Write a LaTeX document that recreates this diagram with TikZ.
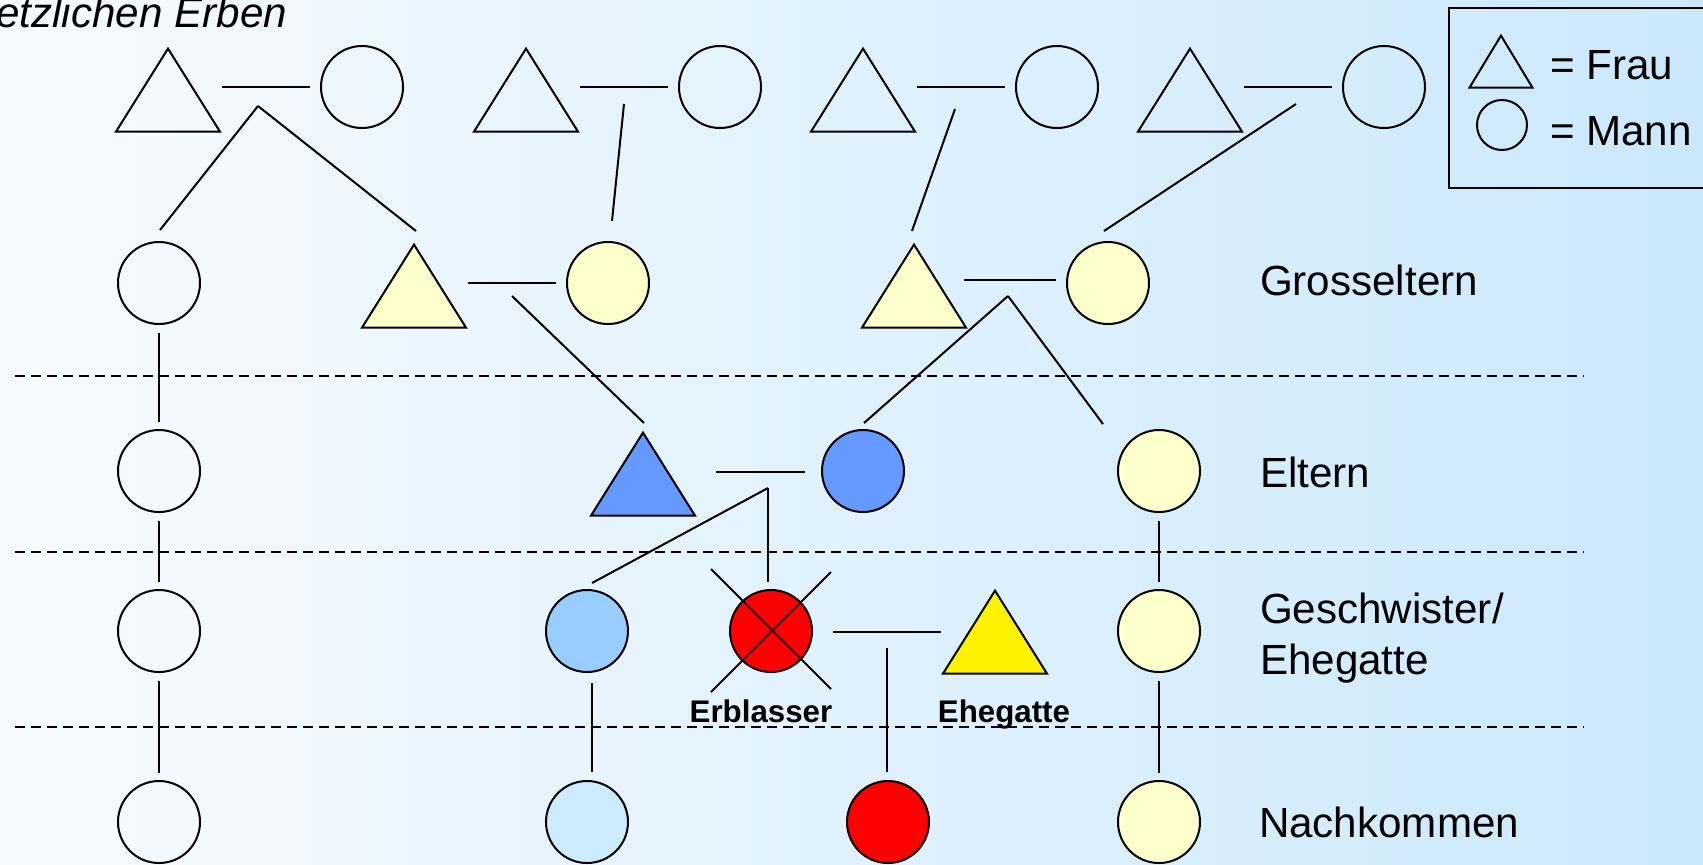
\documentclass[tikz,border=0pt]{standalone}
\usepackage{fontspec}
\setmainfont{Liberation Sans}
\usetikzlibrary{shapes.geometric,calc}

\definecolor{bgleft}{HTML}{F7FBFF}
\definecolor{bgright}{HTML}{CBE8FB}
\definecolor{hellgelb}{HTML}{FFFFCC}
\definecolor{mittelblau}{HTML}{6699FF}
\definecolor{hellblau}{HTML}{99CCFF}
\definecolor{blassblau}{HTML}{CCEBFF}

\begin{document}
\begin{tikzpicture}[x=0.1mm, y=-0.1mm, line width=0.2mm,
    frau/.style={isosceles triangle, isosceles triangle stretches, shape border rotate=90,
        draw, anchor=apex, minimum width=10.4mm, minimum height=8.3mm, inner sep=0pt},
    mann/.style={circle, draw, minimum size=8.2mm, inner sep=0pt},
    ehe/.style={shorten >=1mm},
    linie/.style={shorten <=0.8mm, shorten >=0.7mm},
    trenn/.style={dash pattern=on 1mm off 0.6mm},
    stufe/.style={anchor=base west, inner sep=0pt, font=\fontsize{12}{14.5}\selectfont},
    rolle/.style={anchor=base, inner sep=0pt, font=\bfseries\fontsize{8.9}{10}\selectfont}]

        \useasboundingbox (0,0) rectangle (1703,864);
        \shade[left color=bgleft, right color=bgright] (0,0) rectangle (1703,864);

        \node[anchor=base east, inner sep=0pt, font=\fontsize{12}{14.5}\selectfont\itshape] (titel) at (288,27) {etzlichen Erben};

        % === Urgrosseltern ===
        \node[frau] (UF1) at (168,46) {};
        \node[mann] (UM1) at (362,87) {};
        \node[frau] (UF2) at (526,46) {};
        \node[mann] (UM2) at (720,87) {};
        \node[frau] (UF3) at (863,46) {};
        \node[mann] (UM3) at (1057,87) {};
        \node[frau] (UF4) at (1190,46) {};
        \node[mann] (UM4) at (1384,87) {};

        \draw[ehe] (UF1.right corner |- UM1) -- (UM1);
        \draw[ehe] (UF2.right corner |- UM2) -- (UM2);
        \draw[ehe] (UF3.right corner |- UM3) -- (UM3);
        \draw[ehe] (UF4.right corner |- UM4) -- (UM4);

        \coordinate (d1) at (258,106);
        \coordinate (d2) at (624,104);
        \coordinate (d3) at (955,109);
        \coordinate (d4) at (1296,104);

        % === Grosseltern ===
        \node[mann] (GM0) at (159,283) {};
        \node[frau, fill=hellgelb] (GF1) at (414,242) {};
        \node[mann, fill=hellgelb] (GM1) at (608,283) {};
        \node[frau, fill=hellgelb] (GF2) at (914,242) {};
        \node[mann, fill=hellgelb] (GM2) at (1108,283) {};

        \draw (d1) -- ($(GM0.north)+(1,-11)$);
        \draw (d1) -- ($(GF1.apex)+(2,-11)$);
        \draw (d2) -- ($(GM1.north)+(4,-20)$);
        \draw (d3) -- ($(GF2.apex)+(-2,-11)$);
        \draw (d4) -- ($(GM2.north)+(-4,-10)$);

        \draw[ehe] (GF1.right corner |- GM1) -- (GM1);
        \draw[ehe] ($(GF2.right corner |- GM2)+(-4,-3)$) -- ($(GM2.west)+(0,-3)$);

        \coordinate (d5) at (512,296);
        \coordinate (d6) at (1008,296);

        % === Eltern ===
        \node[mann] (EL0) at (159,471) {};
        \node[frau, fill=mittelblau] (EF) at (643,430) {};
        \node[mann, fill=mittelblau] (EM) at (863,471) {};
        \node[mann, fill=hellgelb] (EL2) at (1159,471) {};

        \draw[linie] (GM0) -- (EL0);
        \draw (d5) -- ($(EF.apex)+(1,-7)$);
        \draw (d6) -- ($(EM.north)+(1,-6)$);
        \draw (d6) -- ($(EL2.center)+(-56,-47)$);

        \draw[shorten >=1.6mm] ($(EF.right corner |- EM)+(19,1)$) -- ($(EM.west)+(0,1)$);

        \coordinate (d7) at (768,488);

        % === Geschwister / Ehegatte ===
        \node[mann] (S0) at (159,631) {};
        \node[mann, fill=hellblau] (S1) at (587,631) {};
        \node[mann, fill=red] (Erb) at (771,631) {};
        \node[frau, fill=yellow] (Gatte) at (995,588) {};
        \node[mann, fill=hellgelb] (S2) at (1159,631) {};

        \draw[linie] (EL0) -- (S0);
        \draw[linie] (EL2) -- (S2);
        \draw (d7) -- ($(S1.north)+(5,-6)$);
        \draw (d7) -- ($(Erb.north)+(-3,-7)$);

        % Erblasser durchgestrichen
        \draw ($(Erb)+(-60,-62)$) -- ($(Erb)+(60,58)$);
        \draw ($(Erb)+(60,-59)$) -- ($(Erb)+(-60,61)$);

        \draw ($(Erb.east)+(20,1)$) -- ($(Gatte.left corner |- Erb)+(0,1)$);
        \coordinate (d8) at (887,648);

        \node[rolle] (lErb) at (761,722) {Erblasser};
        \node[rolle] (lGatte) at (1004,722) {Ehegatte};

        % === Nachkommen ===
        \node[mann] (N0) at (159,822) {};
        \node[mann, fill=blassblau] (N1) at (587,822) {};
        \node[mann, fill=red] (N2) at (888,822) {};
        \node[mann, fill=hellgelb] (N3) at (1159,822) {};

        \draw[linie] (S0) -- (N0);
        \draw ($(S1.south)+(5,10)$) -- ($(N1.north)+(5,-8)$);
        \draw (d8) -- ($(N2.north)+(-1,-8)$);
        \draw[linie] (S2) -- (N3);

        % Trennlinien
        \draw[trenn] (15,376) -- (1583,376);
        \draw[trenn] (15,552) -- (1583,552);
        \draw[trenn] (15,727) -- (1583,727);

        % Beschriftung rechts
        \node[stufe] (tGross) at (1259,295) {Grosseltern};
        \node[stufe] (tEltern) at (1259,487) {Eltern};
        \node[stufe, anchor=west, align=left] (tGesch) at (1259,638) {Geschwister/\\Ehegatte};
        \node[stufe] (tNach) at (1258,837) {Nachkommen};

        % Legende
        \node[draw, anchor=north west, minimum width=28mm, minimum height=18mm] (legende) at (1448,7) {};
        \node[frau, minimum width=6.3mm, minimum height=5.2mm] (LF) at (1501,33) {};
        \node[mann, minimum size=5mm] (LM) at (1502,125) {};
        \node[stufe] (tFrau) at (1549,79) {= Frau};
        \node[stufe] (tMann) at (1549,145) {= Mann};

    \end{tikzpicture}
\end{document}
